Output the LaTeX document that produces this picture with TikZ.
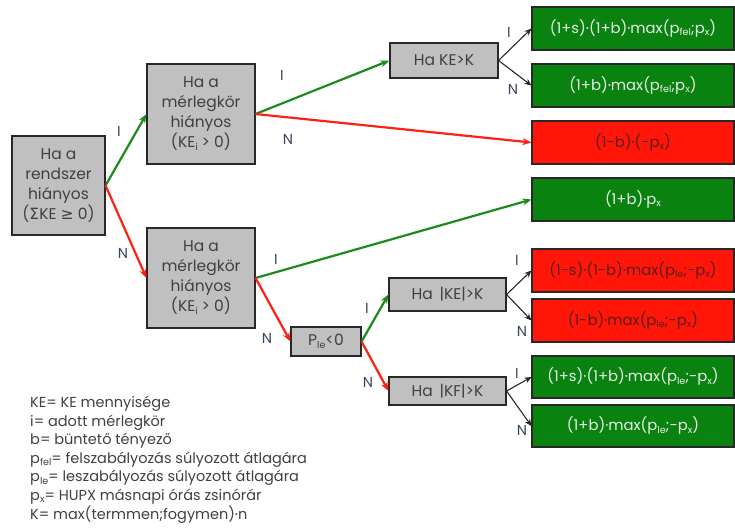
\documentclass[tikz,border=0pt]{standalone}
\usepackage{fontspec}
\setmainfont{Poppins}
\newfontfamily\symf{DejaVu Sans}
\usetikzlibrary{arrows.meta}
\definecolor{boxgray}{RGB}{192,192,192}
\definecolor{boxgreen}{RGB}{10,130,16}
\definecolor{boxred}{RGB}{255,22,8}
\definecolor{argreen}{RGB}{28,138,28}
\definecolor{arred}{RGB}{255,32,20}
\definecolor{txtgray}{RGB}{64,64,64}
\definecolor{txtlight}{RGB}{232,240,232}
\definecolor{txtred}{RGB}{90,30,30}
\definecolor{lblcol}{RGB}{55,70,92}
\definecolor{edgecol}{RGB}{40,40,40}
\newcommand\sbx[1]{\raisebox{-0.3ex}{\fontsize{9.5}{9.5}\selectfont #1}}
\tikzset{
  graybox/.style={draw=edgecol, line width=1.1pt, fill=boxgray, text=txtgray, inner sep=0pt, align=center, font=\fontsize{15.5}{20}\selectfont},
  resbox/.style={draw=edgecol, line width=1.1pt, inner sep=0pt, minimum width=202pt, minimum height=43pt, font=\fontsize{14.8}{16}\selectfont},
  gres/.style={resbox, fill=boxgreen, text=txtlight},
  rres/.style={resbox, fill=boxred, text=txtred},
  garr/.style={draw=argreen, line width=2.2pt, -{Stealth[length=9pt,width=7pt]}},
  rarr/.style={draw=arred, line width=2.2pt, -{Stealth[length=9pt,width=7pt]}},
  barr/.style={draw=edgecol, line width=1.1pt, -{Stealth[length=7pt,width=6pt]}},
  lbl/.style={text=lblcol, font=\fontsize{14.5}{14.5}\selectfont, inner sep=0pt},
}
\begin{document}
\begin{tikzpicture}[x=1pt,y=-1pt]
\useasboundingbox (0,0) rectangle (735,531);
% gray decision boxes
\node[graybox, minimum width=93pt, minimum height=99pt] (root) at (58.5,185.5) {Ha a\\rendszer\\hiányos\\({\symf Σ}KE {\symf ≥} 0)};
\node[graybox, minimum width=108pt, minimum height=100pt] (up) at (201,114) {Ha a\\mérlegkör\\hiányos\\(KE\sbx{i} > 0)};
\node[graybox, minimum width=108pt, minimum height=100pt] (low) at (201,278) {Ha a\\mérlegkör\\hiányos\\(KE\sbx{i} > 0)};
\node[graybox, minimum width=108pt, minimum height=35pt] (hake) at (444,60.5) {Ha KE>K};
\node[graybox, minimum width=70pt, minimum height=29pt] (ple) at (326,341.5) {P\sbx{le}<0};
\node[graybox, minimum width=117pt, minimum height=33pt] (hakeabs) at (447.5,294.5) {Ha \,|KE|>K};
\node[graybox, minimum width=117pt, minimum height=28pt] (hakf) at (447.5,391) {Ha \,|KF|>K};
% result boxes
\node[gres] (r1) at (633,28.5) {(1+s)·(1+b)·max(p\sbx{fel};p\sbx{x})};
\node[gres] (r2) at (633,85.5) {(1+b)·max(p\sbx{fel};p\sbx{x})};
\node[rres] (r3) at (633,142.5) {(1-b)·(-p\sbx{x})};
\node[gres] (r4) at (633,199.5) {(1+b)·p\sbx{x}};
\node[rres] (r5) at (633,270.5) {(1-s)·(1-b)·max(p\sbx{le};-p\sbx{x})};
\node[rres] (r6) at (633,320.5) {(1-b)·max(p\sbx{le};-p\sbx{x})};
\node[gres, minimum height=42pt] (r7) at (633,377) {(1+s)·(1+b)·max(p\sbx{le};-p\sbx{x})};
\node[gres, minimum height=42pt] (r8) at (633,426) {(1+b)·max(p\sbx{le};-p\sbx{x})};
% connectors
\draw[garr] (root.east) -- (up.west);
\draw[rarr] (root.east) -- (low.west);
\draw[garr] (up.east) -- (hake.west);
\draw[rarr] (up.east) -- (r3.west);
\draw[garr] (low.east) -- (r4.west);
\draw[rarr] (low.east) -- (ple.west);
\draw[garr] (ple.east) -- (hakeabs.west);
\draw[rarr] (ple.east) -- (hakf.west);
\draw[barr] (hake.east) -- (r1.west);
\draw[barr] (hake.east) -- (r2.west);
\draw[barr] (hakeabs.east) -- (r5.west);
\draw[barr] (hakeabs.east) -- (r6.west);
\draw[barr] (hakf.east) -- (r7.west);
\draw[barr] (hakf.east) -- (r8.west);
% branch labels
\node[lbl] (l1) at (119,131) {I};
\node[lbl] (l2) at (123,253) {N};
\node[lbl] (l3) at (282,75) {I};
\node[lbl] (l4) at (288,139) {N};
\node[lbl] (l5) at (276,259) {I};
\node[lbl] (l6) at (267,338) {N};
\node[lbl] (l7) at (367,308) {I};
\node[lbl] (l8) at (368,382) {N};
\node[lbl] (l9) at (509,32) {I};
\node[lbl] (l10) at (513,89) {N};
\node[lbl] (l11) at (517,260) {I};
\node[lbl] (l12) at (522,331) {N};
\node[lbl] (l13) at (517,373) {I};
\node[lbl] (l14) at (522,430) {N};
% legend
\node[anchor=north west, align=left, inner sep=0pt, text=txtgray, font=\fontsize{14.5}{18.6}\selectfont] (legend) at (30,396) {%
KE= KE mennyisége\\
i= adott mérlegkör\\
b= büntető tényező\\
p\sbx{fel}= felszabályozás súlyozott átlagára\\
p\sbx{le}= leszabályozás súlyozott átlagára\\
p\sbx{x}= HUPX másnapi órás zsinórár\\
K= max(termmen;fogymen)·n};
\end{tikzpicture}
\end{document}
